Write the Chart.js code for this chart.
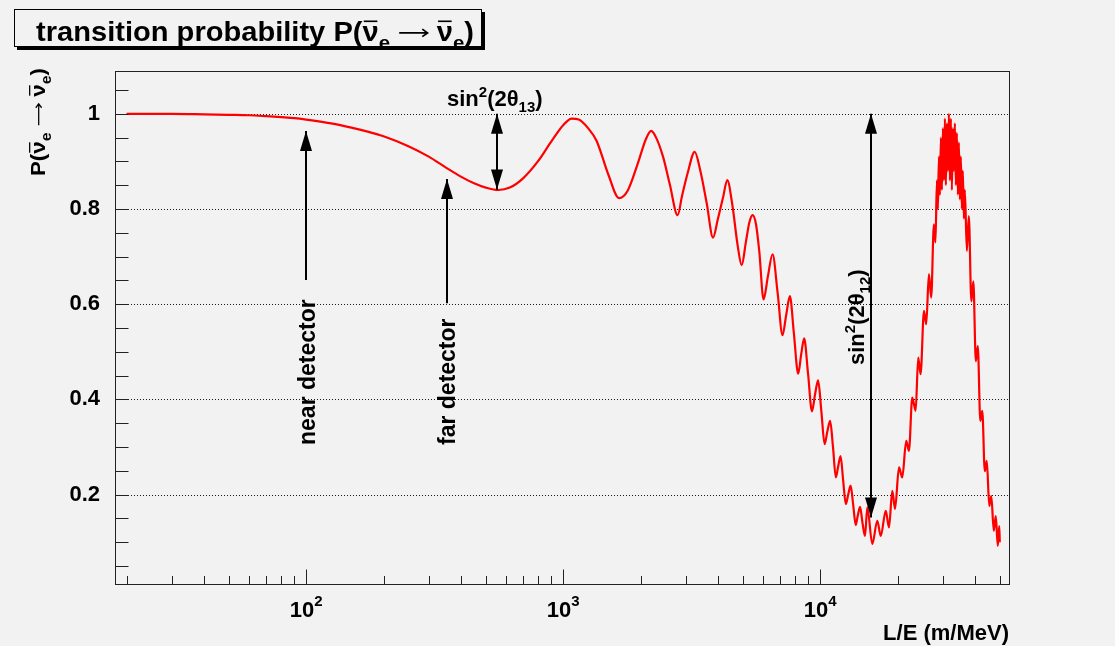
<!DOCTYPE html>
<html>
<head>
<meta charset="utf-8">
<script src="https://cdn.jsdelivr.net/npm/chart.js@4.4.1/dist/chart.umd.min.js"></script>
<style>
  html, body { margin: 0; padding: 0; background: #f2f2f2; }
  #wrap { width: 1115px; height: 646px; }
</style>
</head>
<body>
<div id="wrap"><canvas id="c" width="1115" height="646"></canvas></div>
<script>
// Survival probability of reactor antineutrinos versus L/E (m/MeV)
const lOverE = [
  20, 30, 40, 50, 60, 70, 80, 90, 100, 125, 150, 175, 200, 250, 300, 350, 400, 450, 500, 560,
  620, 700, 800, 900, 1000, 1080, 1150, 1250, 1350, 1500, 1650, 1780, 1950, 2100, 2200, 2300,
  2450, 2600, 2790, 2900, 3050, 3250, 3420, 3620, 3830, 4000, 4200, 4350, 4550, 4780, 4950,
  5146, 5300, 5460, 5628, 5797, 6024, 6260, 6528, 6830, 7138, 7380, 7626, 7900, 8215, 8440,
  8667, 8970, 9294, 9550, 9822, 10110, 10410, 10670, 10935, 11220, 11510, 11760, 12010, 12290,
  12586, 12860, 13140, 13450, 13760, 14000, 14300, 14620, 14950, 15260, 15960, 16690, 17210,
  18000, 18530, 19090, 19560, 20270, 20870, 21630, 22160, 22830, 23530, 24080, 24600, 25350,
  25870, 26500, 27050, 27710, 28100, 28470, 28726, 28984, 29244, 29507, 29772, 30039, 30309,
  30581, 30856, 31133, 31412, 31694, 31979, 32266, 32556, 32848, 33143, 33441, 33741, 34044,
  34350, 34658, 34969, 35283, 35600, 35920, 36242, 36568, 37230, 37900, 38760, 39460, 40350,
  41070, 42000, 42750, 43720, 44510, 45520, 46340, 47390, 48250, 49120, 49770, 50000
];
const survival = [
  1.000, 1.000, 0.999, 0.998, 0.997, 0.995, 0.993, 0.991, 0.988, 0.980, 0.971, 0.962, 0.953, 0.932, 0.910, 0.887, 0.868, 0.854, 0.845, 0.840,
  0.845, 0.865, 0.901, 0.942, 0.976, 0.990, 0.988, 0.970, 0.943, 0.872, 0.823, 0.838, 0.895, 0.947, 0.964, 0.950,
  0.909, 0.852, 0.787, 0.827, 0.875, 0.920, 0.880, 0.812, 0.740, 0.779, 0.827, 0.861, 0.810, 0.722, 0.682,
  0.732, 0.771, 0.787, 0.768, 0.711, 0.610, 0.658, 0.705, 0.625, 0.535, 0.578, 0.617, 0.540, 0.454, 0.495,
  0.528, 0.455, 0.375, 0.410, 0.440, 0.375, 0.306, 0.333, 0.355, 0.300, 0.236, 0.260, 0.281, 0.230,
  0.180, 0.200, 0.219, 0.178, 0.136, 0.155, 0.174, 0.140, 0.113, 0.173, 0.096, 0.145, 0.113,
  0.166, 0.131, 0.208, 0.170, 0.257, 0.236, 0.313, 0.292, 0.404, 0.376, 0.488, 0.453, 0.586,
  0.558, 0.663, 0.614, 0.768, 0.730, 0.860, 0.800, 0.910, 0.830, 0.950, 0.840, 0.970, 0.860,
  0.990, 0.850, 0.980, 0.880, 1.000, 0.860, 0.990, 0.840, 0.970, 0.880, 0.980, 0.850, 0.960,
  0.830, 0.940, 0.820, 0.910, 0.800, 0.880, 0.780, 0.840, 0.712, 0.785, 0.606, 0.648, 0.480,
  0.512, 0.355, 0.376, 0.249, 0.271, 0.176, 0.197, 0.124, 0.155, 0.092, 0.134, 0.100
];

// Axis ticks and labels
const xTickValues = [20, 30, 40, 50, 60, 70, 80, 90, 100, 200, 300, 400, 500, 600, 700, 800, 900,
  1000, 2000, 3000, 4000, 5000, 6000, 7000, 8000, 9000, 10000, 20000, 30000, 40000, 50000];
const xLabelValues = [100, 1000, 10000];
const xLabelExponents = ['2', '3', '4'];
const yTickValues = [0.05, 0.10, 0.15, 0.20, 0.25, 0.30, 0.35, 0.40, 0.45, 0.50, 0.55,
  0.60, 0.65, 0.70, 0.75, 0.80, 0.85, 0.90, 0.95, 1.00, 1.05];
const yTickLabels = ['', '', '', '0.2', '', '', '', '0.4', '', '', '', '0.6', '', '', '', '0.8', '', '', '', '1', ''];
const yGridValues = [0.2, 0.4, 0.6, 0.8, 1.0];

const FONT = '"Liberation Sans", Arial, "DejaVu Sans", sans-serif';

// Draw a sequence of text runs: [text, sizeFactor, baselineShiftInEm, overbar, kind]
// kind 'arrow' draws a right arrow that is sizeFactor em wide.
function drawRuns(ctx, runs, x, y, o) {
  const base = o.size;
  let w = 0;
  const widths = runs.map(r => {
    let ww;
    if (r[4] === 'arrow') {
      ww = base * (r[1] || 1);
    } else {
      ctx.font = 'bold ' + Math.round(base * (r[1] || 1)) + 'px ' + FONT;
      ww = ctx.measureText(r[0]).width;
    }
    w += ww;
    return ww;
  });
  const sx = o.width ? o.width / w : 1;
  ctx.save();
  ctx.translate(x, y);
  if (o.rotate) ctx.rotate(o.rotate);
  const off = o.align === 'right' ? -w * sx : (o.align === 'center' ? -w * sx / 2 : 0);
  ctx.translate(off, 0);
  ctx.scale(sx, 1);
  ctx.fillStyle = '#000';
  ctx.strokeStyle = '#000';
  ctx.textBaseline = 'alphabetic';
  ctx.textAlign = 'left';
  let cx = 0;
  runs.forEach((r, i) => {
    if (r[4] === 'arrow') {
      const ay = -base * 0.3;
      ctx.lineWidth = Math.max(1.2, base * 0.06);
      ctx.beginPath();
      ctx.moveTo(cx + 1, ay);
      ctx.lineTo(cx + widths[i] - 1, ay);
      ctx.moveTo(cx + widths[i] - base * 0.22, ay - base * 0.14);
      ctx.lineTo(cx + widths[i] - 1, ay);
      ctx.lineTo(cx + widths[i] - base * 0.22, ay + base * 0.14);
      ctx.stroke();
    } else {
      const s = Math.round(base * (r[1] || 1));
      ctx.font = 'bold ' + s + 'px ' + FONT;
      ctx.fillText(r[0], cx, (r[2] || 0) * base);
      if (r[3]) {
        ctx.fillRect(cx + widths[i] * 0.08, -s * 0.76, widths[i] * 0.84, Math.max(1.2, s * 0.06));
      }
    }
    cx += widths[i];
  });
  ctx.restore();
}

function drawArrow(ctx, x, yFrom, yTo, headFrom, headTo) {
  const hl = 20, hw = 6;
  ctx.save();
  ctx.strokeStyle = '#000';
  ctx.fillStyle = '#000';
  ctx.lineWidth = 2;
  ctx.beginPath();
  ctx.moveTo(x, yFrom);
  ctx.lineTo(x, yTo);
  ctx.stroke();
  const head = (tipY, dir) => {
    ctx.beginPath();
    ctx.moveTo(x, tipY);
    ctx.lineTo(x - hw, tipY + dir * hl);
    ctx.lineTo(x + hw, tipY + dir * hl);
    ctx.closePath();
    ctx.fill();
  };
  if (headTo) head(yTo, yTo < yFrom ? 1 : -1);
  if (headFrom) head(yFrom, yFrom < yTo ? 1 : -1);
  ctx.restore();
}

// Annotation arrows in data coordinates: [L/E, P from, P to, head at from, head at to]
const arrows = [
  [100, 0.651, 0.964, false, true],
  [352, 0.602, 0.863, false, true],
  [552, 1.0, 0.841, true, true],
  [15820, 1.0, 0.152, true, true]
];

const nuBarRuns = [['\u03BD', 1, 0, true], ['e', 0.7, 0.28]];
const transitionRuns = [['P(']].concat(nuBarRuns, [[' '], ['', 1.05, 0, false, 'arrow'], [' ']], nuBarRuns, [[')']]);

const decorations = {
  id: 'decorations',
  beforeDraw(chart) {
    const ctx = chart.ctx;
    ctx.save();
    ctx.fillStyle = '#f2f2f2';
    ctx.fillRect(0, 0, chart.width, chart.height);
    ctx.restore();
  },
  beforeDatasetsDraw(chart) {
    const { ctx, chartArea: a, scales } = chart;
    ctx.save();
    ctx.strokeStyle = '#1a1a1a';
    ctx.lineWidth = 1;
    ctx.setLineDash([1, 2]);
    yGridValues.forEach(v => {
      const py = Math.round(scales.y.getPixelForValue(v)) + 0.5;
      ctx.beginPath();
      ctx.moveTo(a.left, py);
      ctx.lineTo(a.right, py);
      ctx.stroke();
    });
    ctx.restore();
  },
  afterDatasetsDraw(chart) {
    const { ctx, chartArea: a, scales } = chart;
    const xs = scales.x, ys = scales.y;
    const L = Math.round(a.left) - 0.5, B = Math.round(a.bottom) - 0.5;
    ctx.save();
    // frame
    ctx.strokeStyle = '#222';
    ctx.lineWidth = 1;
    ctx.strokeRect(L, Math.round(a.top) + 0.5, Math.round(a.right) - L - 0.5, B - Math.round(a.top) - 0.5);
    // y ticks
    ctx.beginPath();
    yTickValues.forEach(v => {
      const py = Math.round(ys.getPixelForValue(v)) + 0.5;
      ctx.moveTo(L, py);
      ctx.lineTo(L + 13, py);
    });
    // x ticks
    xTickValues.forEach(v => {
      const px = Math.round(xs.getPixelForValue(v)) + 0.5;
      const major = xLabelValues.includes(v);
      ctx.moveTo(px, B);
      ctx.lineTo(px, B - (major ? 15 : 8.5));
    });
    ctx.stroke();
    ctx.restore();

    // arrows
    arrows.forEach(ar => {
      drawArrow(ctx, Math.round(xs.getPixelForValue(ar[0])), ys.getPixelForValue(ar[1]), ys.getPixelForValue(ar[2]), ar[3], ar[4]);
    });

    // annotation texts
    const up = -Math.PI / 2;
    drawRuns(ctx, [['near detector']], 315, 445, { size: 23, rotate: up });
    drawRuns(ctx, [['far detector']], 455, 445, { size: 23, rotate: up });
    drawRuns(ctx, [['sin'], ['2', 0.68, -0.42], ['(2\u03B8'], ['13', 0.68, 0.28], [')']], 447, 106, { size: 22 });
    drawRuns(ctx, [['sin'], ['2', 0.68, -0.42], ['(2\u03B8'], ['12', 0.68, 0.28], [')']], 864, 365, { size: 22, rotate: up });
  },
  afterDraw(chart) {
    const { ctx, scales } = chart;
    const xs = scales.x;
    // x labels 10^n
    xLabelValues.forEach((v, i) => {
      ctx.save();
      ctx.font = 'bold 22px ' + FONT;
      const w1 = ctx.measureText('10').width;
      ctx.font = 'bold 15px ' + FONT;
      const w2 = ctx.measureText(xLabelExponents[i]).width;
      const px = xs.getPixelForValue(v);
      const x0 = px - (w1 + w2) / 2;
      ctx.restore();
      drawRuns(ctx, [['10'], [xLabelExponents[i], 0.68, -0.5]], x0, 617, { size: 22 });
    });
    // x title
    drawRuns(ctx, [['L/E (m/MeV)']], 1009, 640, { size: 22, align: 'right' });
    // y title
    drawRuns(ctx, transitionRuns, 45, 176, { size: 21, width: 108, rotate: -Math.PI / 2 });
    // title box with shadow
    ctx.save();
    ctx.fillStyle = '#000';
    ctx.fillRect(17, 47, 468, 3);
    ctx.fillRect(482, 12, 3, 38);
    ctx.fillStyle = '#f2f2f2';
    ctx.fillRect(14, 9, 468, 38);
    ctx.strokeStyle = '#000';
    ctx.lineWidth = 1;
    ctx.strokeRect(14.5, 9.5, 467, 37);
    ctx.restore();
    drawRuns(ctx, [['transition probability ']].concat(transitionRuns), 36, 41, { size: 27, width: 438 });
  }
};

const points = lOverE.map((x, i) => ({ x: x, y: survival[i] }));

new Chart(document.getElementById('c'), {
  type: 'line',
  data: {
    datasets: [{
      data: points,
      borderColor: '#ff0000',
      borderWidth: 2.2,
      pointRadius: 0,
      cubicInterpolationMode: 'monotone',
      fill: false
    }]
  },
  options: {
    responsive: false,
    devicePixelRatio: 1,
    animation: false,
    layout: { padding: { top: 71, right: 105, left: 0, bottom: 0 } },
    plugins: { legend: { display: false }, tooltip: { enabled: false }, title: { display: false } },
    scales: {
      x: {
        type: 'logarithmic',
        min: 18.2,
        max: 54800,
        grid: { display: false },
        border: { display: false },
        ticks: { display: false },
        afterBuildTicks(scale) { scale.ticks = xTickValues.map(v => ({ value: v })); },
        afterFit(scale) { scale.height = 61; }
      },
      y: {
        type: 'linear',
        min: 0.01,
        max: 1.09,
        grid: { display: false },
        border: { display: false },
        afterBuildTicks(scale) { scale.ticks = yTickValues.map(v => ({ value: v })); },
        ticks: {
          autoSkip: false,
          padding: 8,
          color: '#000',
          font: { family: FONT, weight: 'bold', size: 22 },
          callback: (value, index) => yTickLabels[index]
        },
        afterFit(scale) { scale.width = 116; }
      }
    }
  },
  plugins: [decorations]
});
</script>
</body>
</html>
